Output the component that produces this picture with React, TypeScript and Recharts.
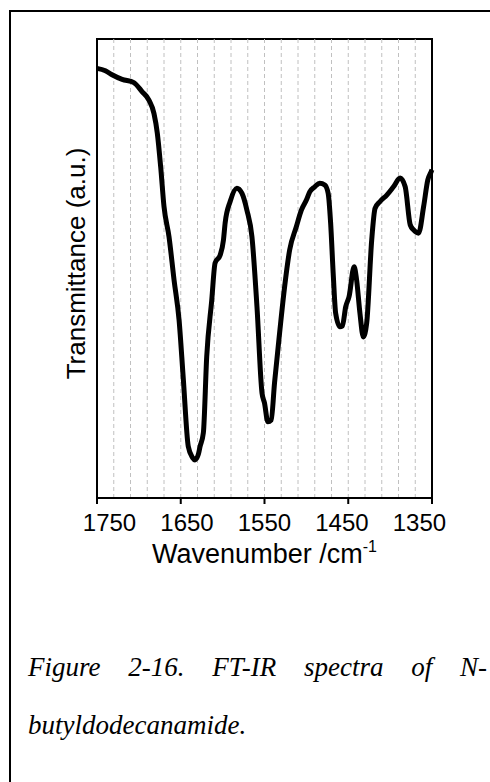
import React, { ReactElement } from 'react';
import { LineChart, Line, XAxis, YAxis, ReferenceLine, ReferenceArea, Label } from 'recharts';

const wavenumbers = [
  1750, 1740, 1732, 1720, 1706, 1696, 1688, 1682, 1678, 1674, 1670, 1664, 1658, 1652, 1647, 1641, 1636,
  1633, 1629, 1627, 1623, 1619, 1613, 1609, 1603, 1599, 1597, 1591, 1583, 1577, 1571, 1565, 1559, 1553,
  1550, 1546, 1542, 1538, 1532, 1526, 1520, 1512, 1506, 1500, 1496, 1490, 1484, 1478, 1474, 1471, 1468,
  1465, 1460, 1457, 1453, 1449, 1443, 1440, 1436, 1432, 1428, 1422, 1418, 1412, 1404, 1396, 1388, 1382,
  1376, 1372, 1366, 1360, 1355, 1351, 1350,
];

// transmittance in arbitrary units (0-100 over the plot height)
const transmittance = [
  93.6, 93.1, 92.2, 91.2, 90.5, 88.5, 86.7, 83.8, 79.5, 72.2, 63.5, 56.9, 47.5, 38.8, 26.1, 11.2, 8.8,
  8.3, 9.5, 11.2, 14.2, 30.8, 43.1, 51.2, 52.9, 56.2, 59.9, 64.6, 67.5, 66.4, 62.7, 56.9, 41.7, 22.9,
  20.7, 16.6, 17.0, 25.1, 35.9, 46.0, 54.0, 59.1, 62.7, 64.9, 66.7, 67.8, 68.6, 68.2, 66.4, 59.8, 49.0,
  40.2, 37.3, 37.5, 41.7, 43.9, 50.4, 47.5, 40.2, 35.1, 38.1, 56.2, 63.1, 64.6, 66.0, 67.8, 69.7, 67.8,
  59.5, 58.4, 57.7, 63.5, 69.3, 71.1, 71.5,
];

const xTicks = [1750, 1650, 1550, 1450, 1350];
// dashed minor gridlines every 20 cm-1
const gridLines = [1730, 1710, 1690, 1670, 1650, 1630, 1610, 1590, 1570, 1550, 1530, 1510, 1490, 1470, 1450, 1430, 1410, 1390, 1370];

const data = wavenumbers.map((wn, i) => ({ wn, t: transmittance[i] }));

const FONT = '"Liberation Sans", Arial, sans-serif';
const PLOT_CENTER = 264;

// labels in the original sit a little inward from their tick marks
function XTick({ x, y, payload }: any) {
  const lx = x + (PLOT_CENTER - x) * 0.075;
  return (
    <text x={lx} y={y} dy='0.71em' textAnchor='middle' fontFamily={FONT} fontSize={24} fill='#000'>
      {payload.value}
    </text>
  );
}

function XTitle({ viewBox }: any) {
  const cx = viewBox.x + viewBox.width / 2;
  return (
    <text x={cx} y={viewBox.y + 65} textAnchor='middle' fontFamily={FONT} fontSize={27} fill='#000'>
      Wavenumber /cm
      <tspan fontSize={16} dy={-11}>
        -1
      </tspan>
    </text>
  );
}

function YTitle({ viewBox }: any) {
  const x = viewBox.x + 28;
  const y = viewBox.y + viewBox.height / 2 - 5;
  return (
    <text x={x} y={y} transform={`rotate(-90 ${x} ${y})`} textAnchor='middle' fontFamily={FONT} fontSize={26} fill='#000'>
      Transmittance (a.u.)
    </text>
  );
}

export default function App(): ReactElement {
  return (
    <div style={{ position: 'absolute', left: 0, top: 0, width: 490, height: 782, overflow: 'hidden', background: '#fff' }}>
      {/* outer frame that runs off the page to the right and bottom */}
      <div style={{ position: 'absolute', left: 9, top: 10, width: 520, height: 820, border: '2px solid #000', boxSizing: 'border-box' }} />
      <div style={{ position: 'absolute', left: 0, top: 0 }}>
        <LineChart width={490} height={600} data={data} margin={{ top: 39, right: 58, bottom: 72, left: 57 }}>
          <XAxis
            dataKey='wn'
            type='number'
            domain={[1350, 1750]}
            reversed
            ticks={xTicks}
            interval={0}
            height={30}
            tickSize={6}
            tickMargin={10}
            axisLine={{ stroke: '#000', strokeWidth: 2 }}
            tickLine={{ stroke: '#000', strokeWidth: 2 }}
            tick={<XTick />}
          >
            <Label content={XTitle} />
          </XAxis>
          <YAxis type='number' domain={[0, 100]} width={40} axisLine={false} tickLine={false} tick={false}>
            <Label content={YTitle} />
          </YAxis>
          {gridLines.map((g) => (
            <ReferenceLine key={g} x={g} stroke='#c0c0c0' strokeWidth={1} strokeDasharray='4 3' />
          ))}
          <ReferenceArea x1={1750} x2={1350} y1={0} y2={100} fill='none' stroke='#000' strokeWidth={2} ifOverflow='visible' />
          <Line
            type='monotone'
            dataKey='t'
            stroke='#000'
            strokeWidth={5}
            dot={false}
            activeDot={false}
            isAnimationActive={false}
          />
        </LineChart>
      </div>
      <div
        style={{
          position: 'absolute',
          left: 28,
          top: 638,
          width: 459,
          fontFamily: '"Liberation Serif", "Times New Roman", serif',
          fontStyle: 'italic',
          fontSize: 27,
          lineHeight: '58px',
          color: '#000',
        }}
      >
        <div style={{ textAlign: 'justify', textAlignLast: 'justify' }}>Figure 2-16. FT-IR spectra of N-</div>
        <div>butyldodecanamide.</div>
      </div>
    </div>
  );
}
